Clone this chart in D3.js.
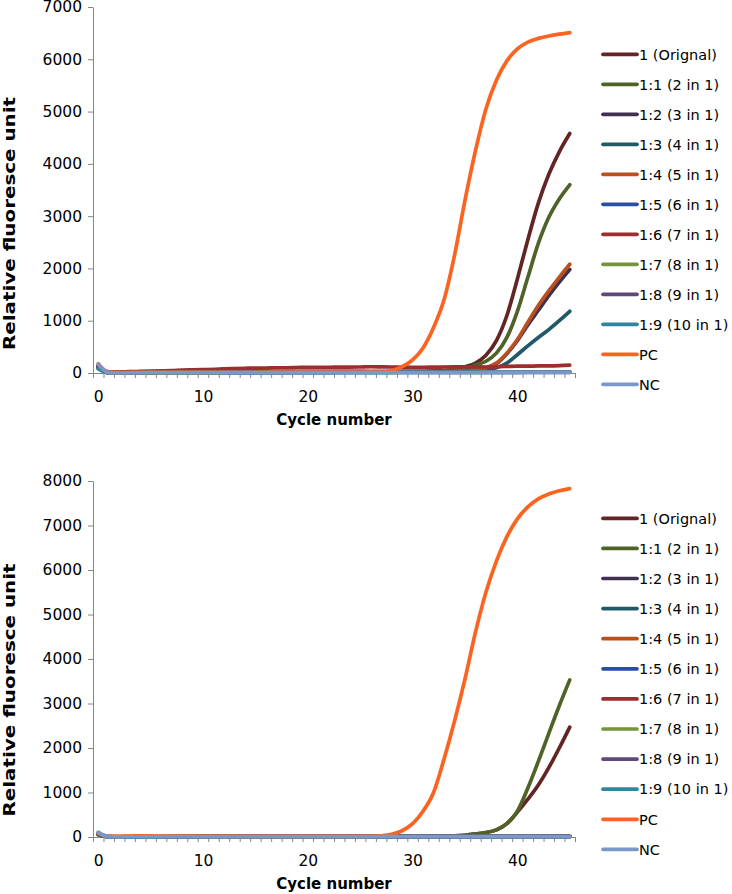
<!DOCTYPE html>
<html><head><meta charset="utf-8">
<script src="https://cdn.jsdelivr.net/npm/d3@7"></script>
<style>
body{margin:0;background:#fff}
svg{display:block}
text{font-family:"DejaVu Sans",Verdana,sans-serif;fill:#000}
</style>
</head><body>
<svg id="c" width="732" height="894"></svg>
<script>
const cycles = [0,1,2,3,4,5,6,7,8,9,10,11,12,13,14,15,16,17,18,19,20,21,22,23,24,25,26,27,28,29,30,31,32,33,34,35,36,37,38,39,40,41,42,43,44,45];
const seriesNames = ["1 (Orignal)","1:1 (2 in 1)","1:2 (3 in 1)","1:3 (4 in 1)","1:4 (5 in 1)","1:5 (6 in 1)","1:6 (7 in 1)","1:7 (8 in 1)","1:8 (9 in 1)","1:9 (10 in 1)","PC","NC"];
const xTickLabels = [0,10,20,30,40];
const topYTicks = [0,1000,2000,3000,4000,5000,6000,7000];
const bottomYTicks = [0,1000,2000,3000,4000,5000,6000,7000,8000];

// ---- top panel values ----
const top_orig = [110,10,8,10,12,12,14,15,15,16,18,18,20,20,20,22,22,22,24,24,25,25,25,26,26,27,27,28,28,30,30,32,35,45,70,120,190,340,620,1100,1800,2550,3250,3800,4230,4580];
const top_11   = [100,8,6,8,10,10,12,12,13,14,15,15,16,16,17,18,18,19,20,20,21,21,22,22,23,23,24,24,25,26,27,28,30,40,60,90,150,225,380,680,1180,1830,2480,2980,3330,3600];
const top_12   = [120,6,5,6,8,8,9,10,10,11,12,12,13,13,14,14,15,15,16,16,17,17,18,18,18,19,19,20,20,20,21,21,22,24,30,40,60,95,180,370,620,920,1200,1480,1740,1980];
const top_13   = [90,5,5,5,6,6,7,7,8,8,9,9,10,10,10,11,11,12,12,12,13,13,13,14,14,14,15,15,15,16,16,16,17,18,22,28,40,60,100,190,350,520,680,830,1000,1180];
const top_14   = [130,8,6,8,9,10,11,12,12,13,14,14,15,15,16,16,17,17,18,18,19,19,20,20,21,21,22,22,23,23,24,24,25,28,35,45,60,100,190,380,640,970,1290,1570,1830,2080];
const top_15   = [100,10,8,10,12,14,16,18,20,22,24,25,26,27,28,29,30,30,31,31,32,32,31,31,30,30,29,29,28,28,27,27,26,26,25,25,24,24,24,23,23,23,22,22,22,22];
const top_16   = [150,20,15,25,30,35,40,45,55,60,65,70,80,85,90,95,95,100,100,105,110,110,110,112,112,115,120,118,115,112,110,110,112,115,118,120,118,115,120,125,130,130,135,135,140,150];
const top_17   = [90,6,5,6,7,7,8,8,9,9,10,10,10,11,11,11,12,12,12,13,13,13,13,14,14,14,14,15,15,15,15,15,16,16,16,16,17,17,17,17,18,18,18,18,18,18];
const top_18   = [120,5,4,5,5,6,6,6,7,7,7,8,8,8,8,9,9,9,9,10,10,10,10,10,11,11,11,11,11,12,12,12,12,12,12,13,13,13,13,13,13,14,14,14,14,14];
const top_19   = [80,4,4,4,5,5,5,5,6,6,6,6,7,7,7,7,7,8,8,8,8,8,8,9,9,9,9,9,9,10,10,10,10,10,10,10,11,11,11,11,11,11,11,12,12,12];
const top_pc   = [180,12,8,10,10,11,11,12,12,12,13,13,13,14,14,14,15,15,15,16,16,16,17,17,18,18,20,15,40,120,250,480,870,1400,2250,3300,4250,5050,5600,5970,6200,6330,6400,6445,6480,6510];
const top_nc   = [170,6,5,5,6,6,6,6,7,7,7,7,7,8,8,8,8,8,8,8,9,9,9,9,9,9,9,10,10,10,10,10,10,10,10,10,10,11,11,11,11,11,11,11,11,11];

// ---- bottom panel values ----
const bot_orig = [70,8,6,6,7,7,7,8,8,8,8,9,9,9,9,10,10,10,10,10,11,11,11,11,11,12,12,12,12,13,13,14,15,18,25,40,70,100,160,300,560,850,1170,1560,2000,2470];
const bot_11   = [60,8,6,6,7,7,7,8,8,8,8,9,9,9,9,10,10,10,10,10,11,11,11,11,11,12,12,12,12,13,13,14,15,18,25,40,70,100,160,300,580,1100,1700,2330,2950,3530];
const bot_12   = [50,6,5,5,6,6,6,6,7,7,7,7,7,8,8,8,8,8,8,8,9,9,9,9,9,9,9,10,10,10,10,10,10,10,10,11,11,11,11,11,11,11,12,12,12,12];
const bot_13   = [80,5,5,5,5,6,6,6,6,6,7,7,7,7,7,8,8,8,8,8,8,9,9,9,9,9,9,9,10,10,10,10,10,10,10,10,11,11,11,11,11,11,11,11,11,11];
const bot_14   = [60,6,6,7,8,9,10,10,10,10,9,9,9,9,9,9,9,9,10,10,10,10,10,10,10,10,10,11,11,11,11,11,11,12,12,12,12,12,12,12,13,13,13,13,13,13];
const bot_15   = [70,5,5,6,7,8,9,9,9,9,8,8,8,8,8,8,8,9,9,9,9,9,9,9,9,9,10,10,10,10,10,10,10,10,10,10,11,11,11,11,11,11,11,11,11,11];
const bot_16   = [60,8,8,10,12,14,15,15,14,13,12,12,12,11,11,11,11,11,11,11,11,11,11,11,12,12,12,12,12,12,12,12,12,12,13,13,13,13,13,13,13,13,13,14,14,14];
const bot_17   = [50,5,5,5,6,6,6,6,6,6,6,7,7,7,7,7,7,7,7,8,8,8,8,8,8,8,8,8,8,9,9,9,9,9,9,9,9,9,9,10,10,10,10,10,10,10];
const bot_18   = [55,5,5,5,5,6,6,6,6,6,6,6,7,7,7,7,7,7,7,7,7,8,8,8,8,8,8,8,8,8,8,8,9,9,9,9,9,9,9,9,9,9,9,9,10,10];
const bot_19   = [90,5,5,5,5,5,6,6,6,6,6,6,6,6,7,7,7,7,7,7,7,7,7,8,8,8,8,8,8,8,8,8,8,8,9,9,9,9,9,9,9,9,9,9,9,9];
const bot_pc   = [90,15,15,20,25,25,25,22,20,18,15,15,14,14,14,13,13,13,13,12,12,12,12,12,12,12,14,25,60,140,300,580,1000,1750,2600,3550,4600,5500,6200,6750,7150,7420,7600,7710,7780,7830];
const bot_nc   = [110,6,6,6,6,6,7,7,7,7,7,7,7,7,7,8,8,8,8,8,8,8,8,8,8,8,8,9,9,9,9,9,9,9,9,9,9,10,10,10,10,10,10,10,10,10];

const seriesColors = ["#632523","#4F6228","#403152","#215968","#BB501E","#2A4F9E","#9C2F2E","#77933C","#5F497A","#31859C","#FB6420","#7B98CB"];

const svg = d3.select("#c");
const X0 = 93, X1 = 575;
const x = d3.scaleLinear().domain([-0.5, 45.5]).range([X0, X1]);
const axisColor = "#868686";

function drawPanel(cfg) {
  const g = svg.append("g");
  const y = d3.scaleLinear().domain([0, cfg.yMax]).range([cfg.yBot, cfg.yTop]);

  const ya = g.append("g").attr("transform", `translate(${X0},0)`)
    .call(d3.axisLeft(y).tickValues(cfg.yTicks).tickSize(5).tickSizeOuter(0).tickPadding(6).tickFormat(d3.format("d")));
  ya.select(".domain").attr("stroke", axisColor);
  ya.selectAll(".tick line").attr("stroke", axisColor);
  ya.selectAll(".tick text").attr("font-size", "15.5px").attr("font-family", "DejaVu Sans, Verdana, sans-serif").attr("fill", "#000");

  const bounds = cycles.map(c => c - 0.5).concat([cycles[cycles.length - 1] + 0.5]);
  const xa = g.append("g").attr("transform", `translate(0,${cfg.yBot})`)
    .call(d3.axisBottom(x).tickValues(bounds).tickSize(5).tickSizeOuter(0).tickFormat(""));
  xa.select(".domain").attr("stroke", axisColor);
  xa.selectAll(".tick line").attr("stroke", axisColor);

  const xl = g.append("g").attr("transform", `translate(0,${cfg.yBot})`)
    .call(d3.axisBottom(x).tickValues(xTickLabels).tickSize(0).tickPadding(18).tickFormat(d3.format("d")));
  xl.select(".domain").remove();
  xl.selectAll(".tick text").attr("font-size", "15.5px").attr("font-family", "DejaVu Sans, Verdana, sans-serif").attr("fill", "#000");

  g.append("text").attr("x", (X0 + X1) / 2).attr("y", cfg.yBot + 52)
    .attr("text-anchor", "middle").attr("font-size", "15px").attr("font-weight", "bold").text("Cycle number");
  g.append("text").attr("transform", `translate(15,${cfg.yTitleY}) rotate(-90)`)
    .attr("text-anchor", "middle").attr("font-size", "16px").attr("font-weight", "bold")
    .attr("textLength", 253).attr("lengthAdjust", "spacingAndGlyphs")
    .text("Relative fluoresce unit");

  const line = d3.line().x((d, i) => x(cycles[i])).y(d => y(d)).curve(d3.curveMonotoneX);
  cfg.data.forEach((arr, k) => {
    g.append("path").datum(arr).attr("d", line).attr("fill", "none")
      .attr("stroke", seriesColors[k]).attr("stroke-width", 3.7)
      .attr("stroke-linejoin", "round").attr("stroke-linecap", "round");
  });

  const lg = g.append("g");
  seriesNames.forEach((name, k) => {
    const ly = cfg.legendY0 + cfg.legendStep * k;
    lg.append("line").attr("x1", 603).attr("x2", 637).attr("y1", ly).attr("y2", ly)
      .attr("stroke", seriesColors[k]).attr("stroke-width", 3.7).attr("stroke-linecap", "round");
    lg.append("text").attr("x", 639).attr("y", ly).attr("dy", "0.36em")
      .attr("font-size", "14.5px").text(name);
  });
}

drawPanel({
  yTop: 7, yBot: 373, yMax: 7000, yTicks: topYTicks,
  data: [top_orig, top_11, top_12, top_13, top_14, top_15, top_16, top_17, top_18, top_19, top_pc, top_nc],
  legendY0: 54.3, legendStep: 30, yTitleY: 223.5
});
drawPanel({
  yTop: 481, yBot: 837, yMax: 8000, yTicks: bottomYTicks,
  data: [bot_orig, bot_11, bot_12, bot_13, bot_14, bot_15, bot_16, bot_17, bot_18, bot_19, bot_pc, bot_nc],
  legendY0: 518.3, legendStep: 30.1, yTitleY: 690
});
</script>
</body></html>
